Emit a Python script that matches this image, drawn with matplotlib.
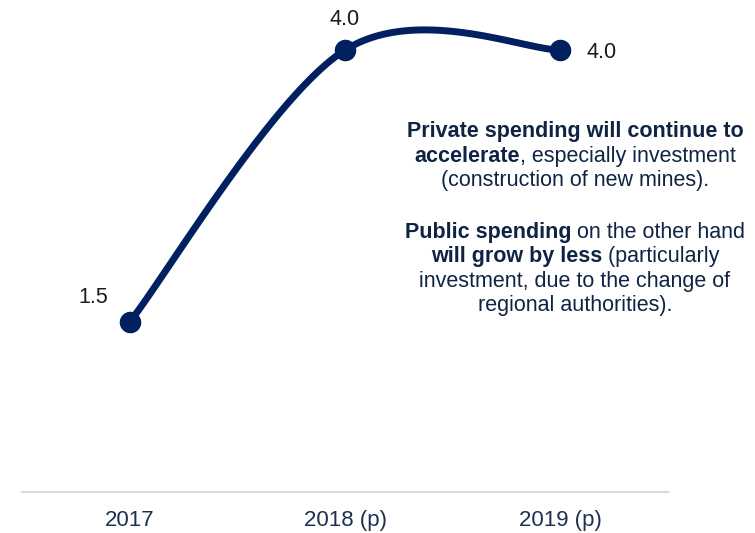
import numpy as np
import matplotlib.pyplot as plt

plt.rcParams['font.family'] = ['Liberation Sans', 'DejaVu Sans']

years = ['2017', '2018 (p)', '2019 (p)']
growth = [1.5, 4.0, 4.0]

note_lines = [
    [('Private spending will continue to', True)],
    [('accelerate', True), (', especially investment', False)],
    [('(construction of new mines).', False)],
    [('Public spending', True), (' on the other hand', False)],
    [('will grow by less', True), (' (particularly', False)],
    [('investment, due to the change of', False)],
    [('regional authorities).', False)],
]

navy = '#002060'
W, H = 755, 533
FS = 15.5


def smooth_curve(xs, ys, n=60):
    # Bezier smoothing of the kind office charts use (Catmull-Rom, 1/6 handles)
    pts = np.column_stack([xs, ys]).astype(float)
    out = []
    for i in range(len(pts) - 1):
        p0 = pts[max(i - 1, 0)]
        p1 = pts[i]
        p2 = pts[i + 1]
        p3 = pts[min(i + 2, len(pts) - 1)]
        c1 = p1 + (p2 - p0) / 6
        c2 = p2 - (p3 - p1) / 6
        t = np.linspace(0, 1, n)[:, None]
        seg = ((1 - t) ** 3) * p1 + 3 * ((1 - t) ** 2) * t * c1 \
            + 3 * (1 - t) * t ** 2 * c2 + t ** 3 * p2
        out.append(seg if i == 0 else seg[1:])
    out = np.vstack(out)
    return out[:, 0], out[:, 1]


fig = plt.figure(figsize=(W / 100, H / 100), dpi=100)
ax = fig.add_axes([22 / W, 41 / H, 646 / W, 492 / H])

x = np.arange(len(years))
sx, sy = smooth_curve(x, growth)
ax.plot(sx, sy, color=navy, lw=5, solid_capstyle='round', zorder=2)
ax.plot(x, growth, 'o', color=navy, ms=14.5, zorder=3)

ax.set_xlim(-0.5, 2.5)
ax.set_ylim(-0.0625, 4.46)

for s in ['top', 'right', 'left']:
    ax.spines[s].set_visible(False)
ax.spines['bottom'].set_color('#d9d9d9')
ax.spines['bottom'].set_linewidth(1.5)
ax.set_yticks([])
ax.set_xticks(x)
ax.set_xticklabels(years, fontsize=16, color='#1f2f4f')
ax.tick_params(axis='x', length=0, pad=13)

label_offsets = [(-26.5, 18, 'center'), (0, 22, 'center'), (18.5, -1.5, 'left')]
for xi, v, (dx, dy, ha) in zip(x, growth, label_offsets):
    ax.annotate(f'{v:.1f}', (xi, v), xytext=(dx, dy), textcoords='offset points',
                ha=ha, va='center', fontsize=FS, color='#1a1a1a')

# right-hand commentary, mixed bold / regular runs centred per line
renderer = fig.canvas.get_renderer()


def run_width(s, bold):
    t = fig.text(0, 0, 'X' + s + 'X', fontsize=FS, fontweight='bold' if bold else 'normal')
    t2 = fig.text(0, 0, 'XX', fontsize=FS, fontweight='bold' if bold else 'normal')
    w = t.get_window_extent(renderer).width - t2.get_window_extent(renderer).width
    t.remove()
    t2.remove()
    return w


baselines = [137, 162, 186, 238, 262, 287, 311]
cx = 575
for parts, yb in zip(note_lines, baselines):
    widths = [run_width(s, b) for s, b in parts]
    xpos = cx - sum(widths) / 2
    for (s, b), w in zip(parts, widths):
        fig.text(xpos / W, 1 - yb / H, s, fontsize=FS, fontweight='bold' if b else 'normal',
                 color='#0f2444', ha='left', va='baseline')
        xpos += w

fig.savefig('out.png', dpi=100)
